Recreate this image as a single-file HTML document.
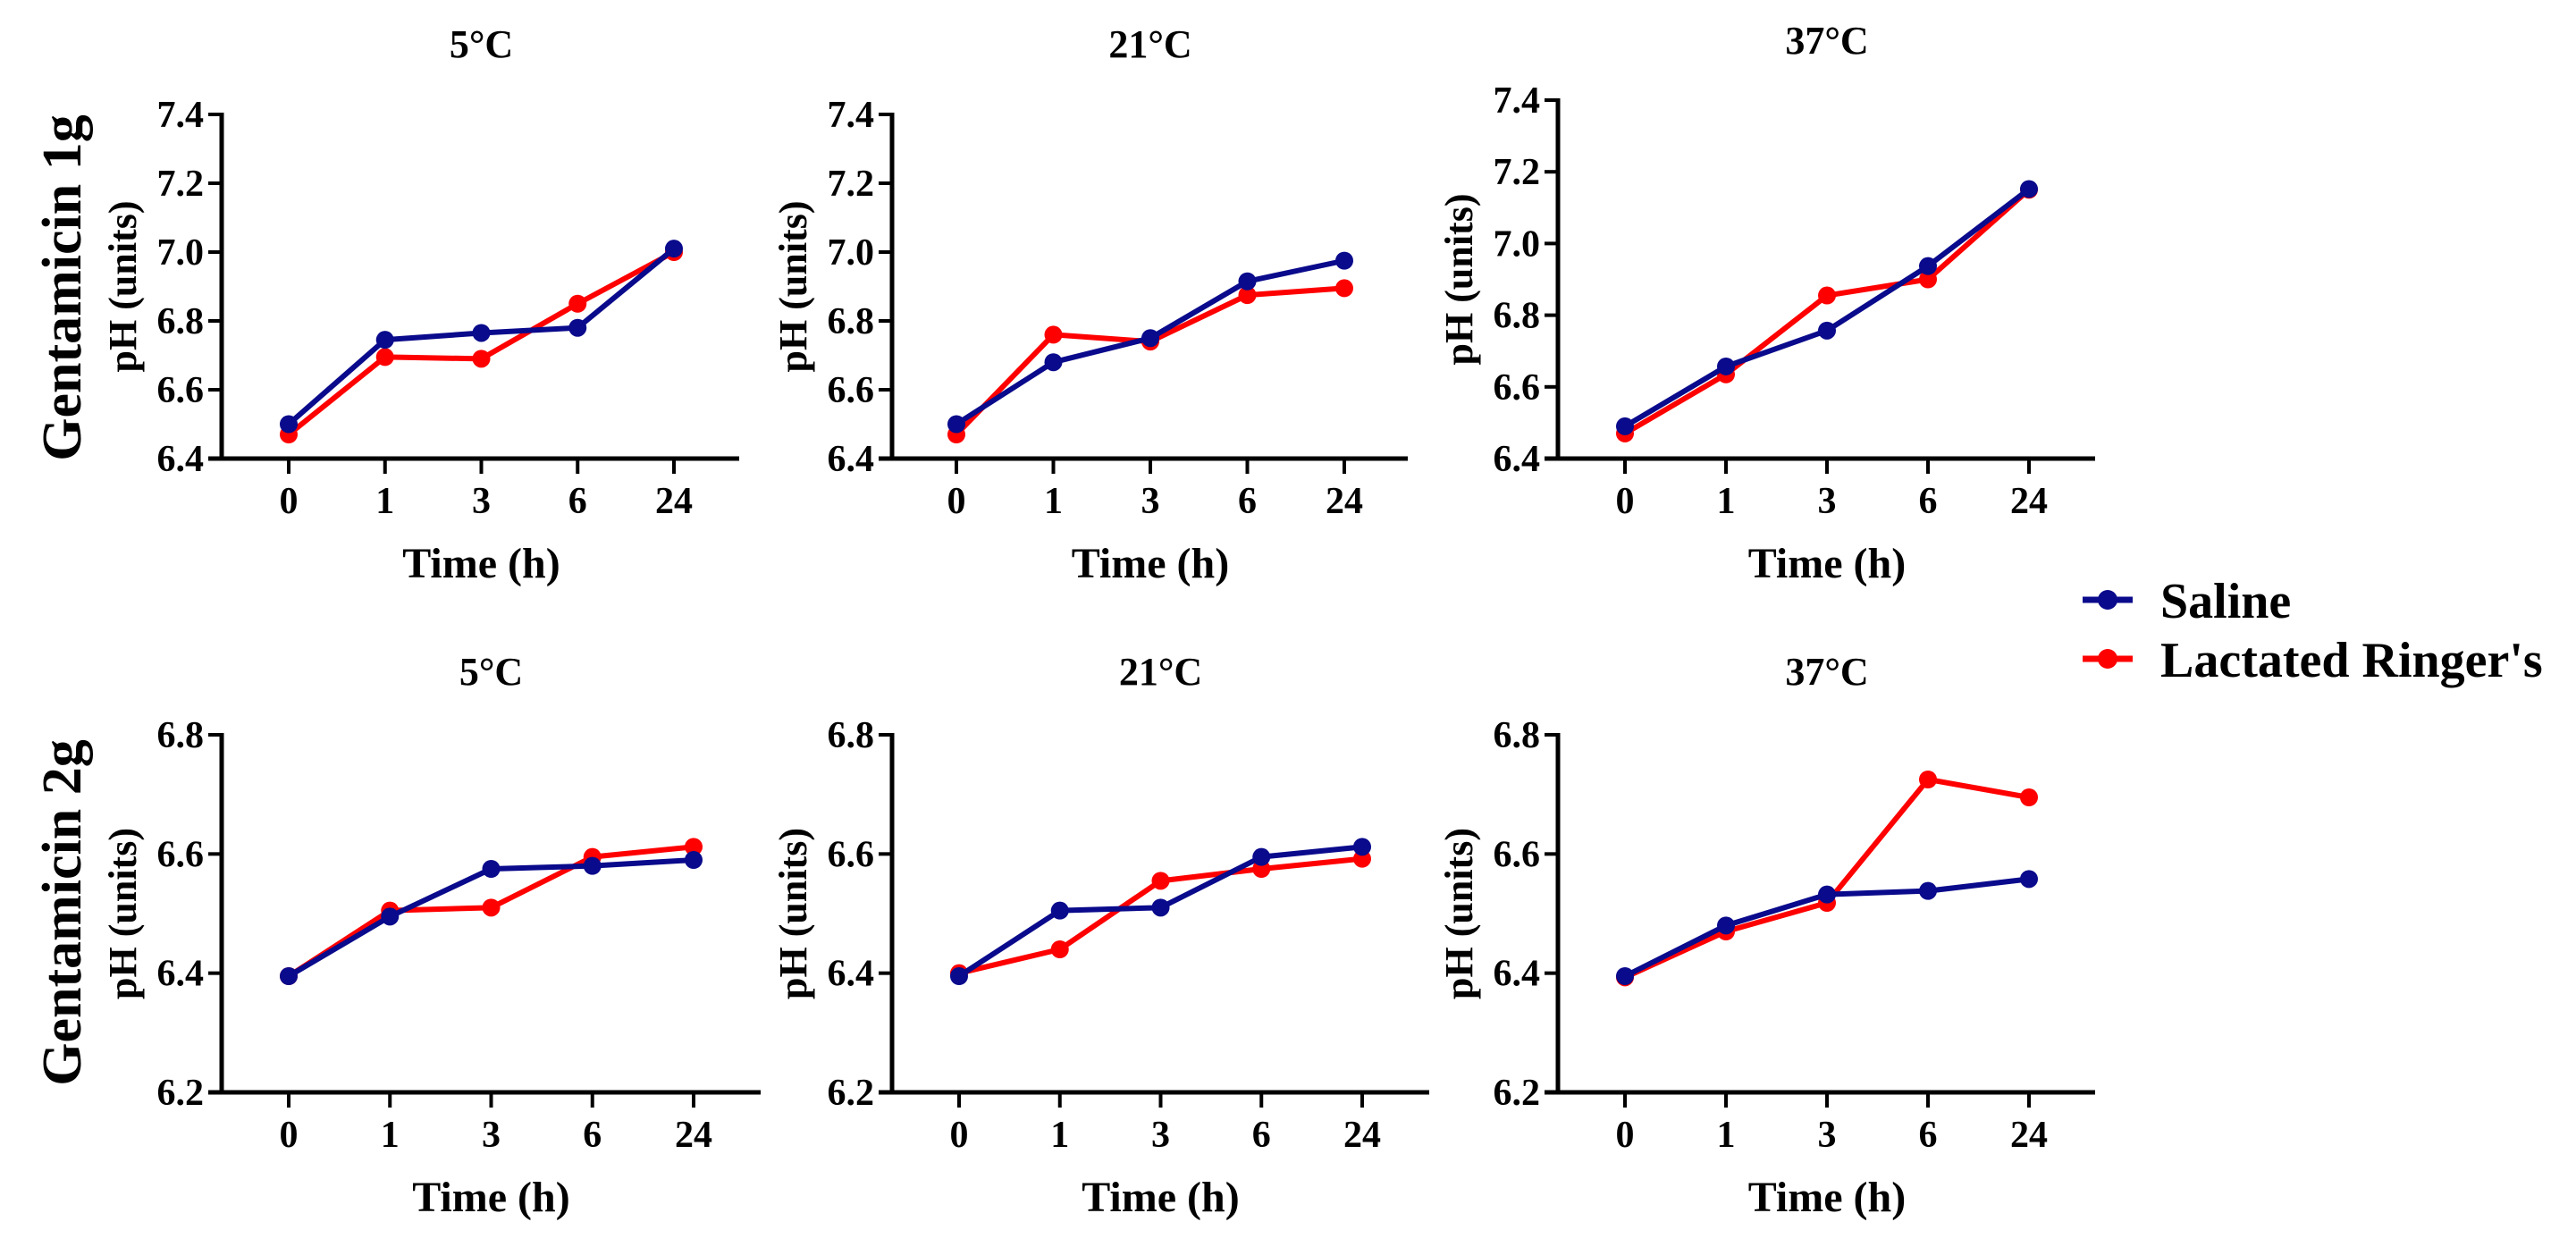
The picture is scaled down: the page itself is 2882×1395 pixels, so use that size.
<!DOCTYPE html>
<html><head><meta charset="utf-8">
<style>
html,body{margin:0;padding:0;background:#fff;}
svg text{font-family:"Liberation Serif",serif;font-weight:bold;fill:#000;}
</style></head>
<body>
<svg id="chart" width="2882" height="1390" viewBox="0 0 2882 1390" xmlns="http://www.w3.org/2000/svg">
<text x="0" y="0" font-size="62" text-anchor="middle" transform="translate(90,322) rotate(-90)">Gentamicin 1g</text>
<text x="0" y="0" font-size="62" text-anchor="middle" transform="translate(90,1021) rotate(-90)">Gentamicin 2g</text>
<g>
<g>
<line x1="2330" y1="671" x2="2386" y2="671" stroke="#0a0a8c" stroke-width="7"/>
<circle cx="2358" cy="671" r="11" fill="#0a0a8c"/>
<text x="2417" y="691" font-size="56">Saline</text></g>
<g>
<line x1="2330" y1="737" x2="2386" y2="737" stroke="#ff0000" stroke-width="7"/>
<circle cx="2358" cy="737" r="11" fill="#ff0000"/>
<text x="2417" y="757" font-size="56">Lactated Ringer's</text></g>
</g>
</svg>
<script>
const categories = ["0","1","3","6","24"];
const titles = ["5°C","21°C","37°C","5°C","21°C","37°C"];
const yTicksRow1 = [6.4,6.6,6.8,7.0,7.2,7.4];
const yTicksRow2 = [6.2,6.4,6.6,6.8];
const saline1 = [6.50,6.745,6.765,6.78,7.01];
const lr1 = [6.47,6.695,6.69,6.85,7.00];
const saline2 = [6.50,6.68,6.75,6.915,6.975];
const lr2 = [6.47,6.76,6.74,6.875,6.895];
const saline3 = [6.49,6.657,6.757,6.937,7.152];
const lr3 = [6.47,6.635,6.855,6.90,7.15];
const saline4 = [6.395,6.495,6.575,6.58,6.59];
const lr4 = [6.395,6.505,6.51,6.595,6.612];
const saline5 = [6.395,6.505,6.51,6.595,6.612];
const lr5 = [6.40,6.44,6.555,6.575,6.592];
const saline6 = [6.395,6.48,6.532,6.538,6.558];
const lr6 = [6.393,6.47,6.518,6.725,6.695];

const NS="http://www.w3.org/2000/svg";
const svg=document.getElementById('chart');
function mk(tag,attrs,parent){const e=document.createElementNS(NS,tag);for(const k in attrs)e.setAttribute(k,attrs[k]);(parent||svg).appendChild(e);return e;}

const panels=[
 {ax:248,xEnd:827,x0:323,x24:754,yTop:128,yBot:513,ticks:yTicksRow1,s:saline1,r:lr1,tY:64,timeY:646},
 {ax:998,xEnd:1575,x0:1070,x24:1504,yTop:128,yBot:513,ticks:yTicksRow1,s:saline2,r:lr2,tY:64,timeY:646},
 {ax:1743,xEnd:2344,x0:1818,x24:2270,yTop:112,yBot:513,ticks:yTicksRow1,s:saline3,r:lr3,tY:60,timeY:646},
 {ax:248,xEnd:851,x0:323,x24:776,yTop:822,yBot:1222,ticks:yTicksRow2,s:saline4,r:lr4,tY:766,timeY:1355},
 {ax:998,xEnd:1599,x0:1073,x24:1524,yTop:822,yBot:1222,ticks:yTicksRow2,s:saline5,r:lr5,tY:766,timeY:1355},
 {ax:1743,xEnd:2344,x0:1818,x24:2270,yTop:822,yBot:1222,ticks:yTicksRow2,s:saline6,r:lr6,tY:766,timeY:1355}
];

panels.forEach((p,pi)=>{
  const g=mk('g',{});
  
  
  const yMin=p.ticks[0], yMax=p.ticks[p.ticks.length-1];
  const yS=v=>p.yBot-(v-yMin)/(yMax-yMin)*(p.yBot-p.yTop);
  const xS=i=>p.x0+i*(p.x24-p.x0)/(categories.length-1);
  const yAxis=mk('line',{x1:p.ax,y1:p.yTop-2,x2:p.ax,y2:p.yBot+2,stroke:'#000','stroke-width':5},g);
  
  
  const xAxis=mk('line',{x1:p.ax-15,y1:p.yBot,x2:p.xEnd,y2:p.yBot,stroke:'#000','stroke-width':5},g);
  
  
  p.ticks.forEach(v=>{
    mk('line',{x1:p.ax-15,y1:yS(v),x2:p.ax,y2:yS(v),stroke:'#000','stroke-width':4},g);
    const t=mk('text',{x:p.ax-20,y:yS(v)+14,'font-size':42,'text-anchor':'end'},g);
    
    
    t.textContent=v.toFixed(1);
  });
  categories.forEach((c,i)=>{
    mk('line',{x1:xS(i),y1:p.yBot,x2:xS(i),y2:p.yBot+17,stroke:'#000','stroke-width':4},g);
    const t=mk('text',{x:xS(i),y:p.yBot+61,'font-size':42,'text-anchor':'middle'},g);
    
    
    t.textContent=c;
  });
  const ti=mk('text',{x:(p.x0+p.x24)/2,y:p.tY,'font-size':44,'text-anchor':'middle'},g);
  
  
  ti.textContent=titles[pi];
  const xt=mk('text',{x:(p.x0+p.x24)/2,y:p.timeY,'font-size':48,'text-anchor':'middle'},g);
  
  
  xt.textContent='Time (h)';
  const yt=mk('text',{x:0,y:0,'font-size':44,'text-anchor':'middle',transform:'translate('+(p.ax-96)+','+((p.yTop+p.yBot)/2)+') rotate(-90)'},g);
  
  
  yt.textContent='pH (units)';
  [[p.r,'#ff0000','lactated-ringers'],[p.s,'#0a0a8c','saline']].forEach(([arr,col,nm])=>{
    const pl=mk('polyline',{points:arr.map((v,i)=>xS(i)+','+yS(v)).join(' '),fill:'none',stroke:col,'stroke-width':6,'stroke-linejoin':'round'},g);
    
    
    arr.forEach((v,i)=>{
      const c=mk('circle',{cx:xS(i),cy:yS(v),r:10,fill:col},g);
      
      
    });
  });
});
</script>
</body></html>
